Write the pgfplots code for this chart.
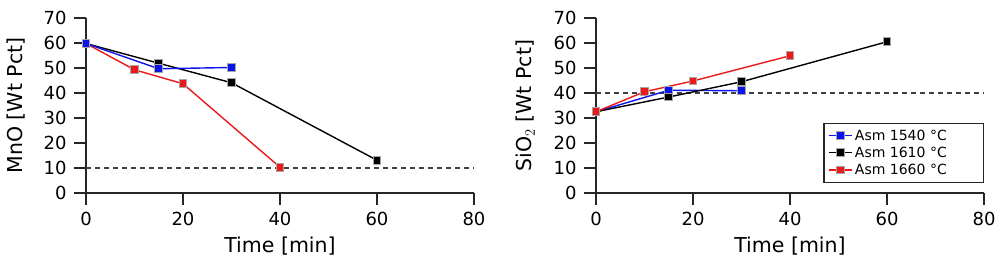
\documentclass[border=0pt]{standalone}
\usepackage{fontspec}
\setmainfont{DejaVu Sans}
\usepackage{pgfplots}
\pgfplotsset{compat=1.18}
\definecolor{cblue}{RGB}{10,20,235}
\definecolor{cred}{RGB}{235,25,25}
\definecolor{cblack}{RGB}{0,0,0}
\pgfplotsset{
  mystyle/.style={
    scale only axis, width=388bp, height=175bp,
    xmin=0, xmax=80, ymin=0, ymax=70,
    axis lines*=left, axis line style={-, line width=1.4bp, black!85},
    xtick pos=bottom, ytick pos=left,
    xtick={0,20,...,80}, ytick={0,10,...,70},
    tick align=outside, tickwidth=12bp,
    tick style={line width=1.4bp, black!85},
    ticklabel style={font=\fontsize{18bp}{20bp}\selectfont},
    xticklabel style={yshift=-4bp},
    yticklabel style={xshift=-4bp},
    /pgf/number format/assume math mode=true,
    xlabel style={at={(axis description cs:0.5,-0.25)}, anchor=north, inner sep=0pt, font=\fontsize{20.5bp}{24bp}\selectfont},
    ylabel style={at={(axis description cs:-0.157,0.5)}, anchor=south, inner sep=0pt, font=\fontsize{20.5bp}{24bp}\selectfont},
    clip=false,
  },
  ser/.style={#1, line width=1.4bp, mark=square*, mark size=3.9bp,
    mark options={solid, fill=#1, draw=black!35, line width=0.9bp}},
  ref/.style={dash pattern=on 5bp off 4bp, black!75, line width=1.2bp, forget plot},
}
\begin{document}
\begin{tikzpicture}
\path[use as bounding box] (0,0) rectangle (1002bp,265bp);
\begin{axis}[mystyle, at={(86bp,72bp)}, anchor=south west,
  xlabel={Time [min]}, ylabel={MnO [Wt Pct]}]
\addplot[ref] coordinates {(0,10) (80,10)};
\addplot[ser=cblack] coordinates {(0,59.8) (15,51.9) (30,44.1) (60,13.1)};
\addplot[ser=cred] coordinates {(0,59.8) (10,49.3) (20,43.7) (40,10.3)};
\addplot[ser=cblue] coordinates {(0,59.8) (15,49.7) (30,50.2)};
\end{axis}
\begin{axis}[mystyle, at={(596bp,72bp)}, anchor=south west,
  xlabel={Time [min]}, ylabel={SiO$_2$ [Wt Pct]},
  legend style={at={(axis cs:80,4)}, anchor=south east,
    font=\fontsize{14bp}{16bp}\selectfont, draw=black!85, line width=1.2bp,
    inner sep=4bp, nodes={inner sep=2.6bp}, cells={anchor=west}},
  legend image code/.code={\draw[mark repeat=2,mark phase=2] plot coordinates {(0bp,0bp) (11.5bp,0bp) (23bp,0bp)};}]
\addplot[ref] coordinates {(0,40) (80,40)};
\addplot[ser=cblue] coordinates {(0,32.5) (15,41.1) (30,40.9)};
\addlegendentry{Asm 1540 °C\hspace*{30bp}}
\addplot[ser=cblack] coordinates {(0,32.5) (15,38.4) (30,44.5) (60,60.5)};
\addlegendentry{Asm 1610 °C\hspace*{30bp}}
\addplot[ser=cred] coordinates {(0,32.5) (10,40.5) (20,44.8) (40,54.9)};
\addlegendentry{Asm 1660 °C\hspace*{30bp}}
\end{axis}
\end{tikzpicture}
\end{document}
